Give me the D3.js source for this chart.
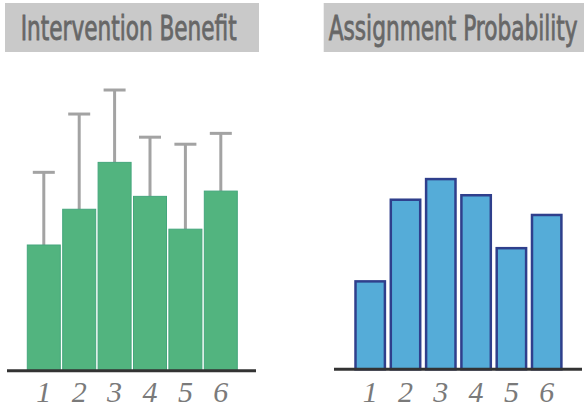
<!DOCTYPE html>
<html>
<head>
<meta charset="utf-8">
<script src="https://cdn.jsdelivr.net/npm/d3@7"></script>
<style>
  html, body { margin: 0; padding: 0; background: #fff; }
  svg { display: block; }
</style>
</head>
<body>
<div id="chart"></div>
<script>
/**
 * Two small bar panels: intervention benefit (with error bars) and assignment probability
 */

var groups = ['1', '2', '3', '4', '5', '6'];
var benefit = [4.29, 5.51, 7.11, 5.95, 4.83, 6.13];
var benefitUpper = [6.77, 8.76, 9.58, 7.97, 7.73, 8.10];
var probability = [0.098, 0.189, 0.212, 0.194, 0.135, 0.172];
var titles = ['Intervention Benefit', 'Assignment Probability'];

function drawTitle(svg, label, box, textX, textLen) {
    svg.append("rect")
       .attr("x", box[0]).attr("y", box[1])
       .attr("width", box[2]).attr("height", box[3])
       .style("fill", "#c9c9c9");
    svg.append("text")
       .attr("x", textX).attr("y", 39.5)
       .attr("textLength", textLen)
       .attr("lengthAdjust", "spacingAndGlyphs")
       .style("font-family", "'DejaVu Sans Condensed', 'DejaVu Sans', sans-serif")
       .style("font-stretch", "condensed")
       .style("font-size", "34px")
       .style("fill", "#676767")
       .style("stroke", "#676767")
       .style("stroke-width", 0.8)
       .text(label);
}

function drawAxis(svg, x, y0, x1, x2) {
    svg.append("line")
       .attr("x1", x1).attr("x2", x2)
       .attr("y1", y0).attr("y2", y0)
       .style("stroke", "#333")
       .style("stroke-width", 3);

    svg.append("g")
       .selectAll("text")
       .data(groups)
       .enter()
       .append("text")
       .attr("x", function(d) { return x(d) + x.bandwidth() / 2; })
       .attr("y", 401.5)
       .attr("text-anchor", "middle")
       .style("font-family", "'Liberation Serif', 'DejaVu Serif', serif")
       .style("font-style", "italic")
       .style("font-size", "30px")
       .style("fill", "#7a7a7a")
       .text(function(d) { return d; });
}

(function (d3) {
    var svg = d3.select('#chart')
                .append("svg")
                .attr("width", 584)
                .attr("height", 406);

    /***** Left panel *****/
    var xL = d3.scaleBand().domain(groups).range([27.3, 237.3]).paddingInner(0.068);
    var yL = d3.scaleLinear().domain([0, 10]).range([370.7, 77.7]);

    drawTitle(svg, titles[0], [5, 3, 254, 49], 20.7, 216);

    var left = groups.map(function(g, i) { return {g: g, v: benefit[i], u: benefitUpper[i]}; });

    // error bars
    svg.append("g").selectAll("line")
       .data(left).enter().append("line")
       .attr("x1", function(d) { return xL(d.g) + xL.bandwidth() / 2; })
       .attr("x2", function(d) { return xL(d.g) + xL.bandwidth() / 2; })
       .attr("y1", function(d) { return yL(d.v); })
       .attr("y2", function(d) { return yL(d.u); })
       .style("stroke", "#a3a3a3").style("stroke-width", 3);
    svg.append("g").selectAll("line")
       .data(left).enter().append("line")
       .attr("x1", function(d) { return xL(d.g) + xL.bandwidth() / 2 - 11; })
       .attr("x2", function(d) { return xL(d.g) + xL.bandwidth() / 2 + 11; })
       .attr("y1", function(d) { return yL(d.u); })
       .attr("y2", function(d) { return yL(d.u); })
       .style("stroke", "#a3a3a3").style("stroke-width", 3);

    svg.append("g").selectAll("rect")
       .data(left).enter().append("rect")
       .attr("x", function(d) { return xL(d.g); })
       .attr("y", function(d) { return yL(d.v); })
       .attr("width", xL.bandwidth())
       .attr("height", function(d) { return yL(0) - yL(d.v); })
       .style("fill", "#52b47f")
       .style("stroke", "#44a67c")
       .style("stroke-width", 1);

    drawAxis(svg, xL, 370.7, 7, 256);

    /***** Right panel *****/
    var xR = d3.scaleBand().domain(groups).range([355.5, 561.4]).paddingInner(0.167);
    var yR = d3.scaleLinear().domain([0, 0.25]).range([369.3, 145]);

    drawTitle(svg, titles[1], [323.7, 3, 270, 49], 328.7, 249);

    svg.append("g").selectAll("rect")
       .data(probability).enter().append("rect")
       .attr("x", function(d, i) { return xR(groups[i]); })
       .attr("y", function(d) { return yR(d); })
       .attr("width", xR.bandwidth())
       .attr("height", function(d) { return yR(0) - yR(d); })
       .style("fill", "#55acd8")
       .style("stroke", "#2f3f8c")
       .style("stroke-width", 2.5);

    drawAxis(svg, xR, 369.3, 334, 582);
})(d3);
</script>
</body>
</html>
